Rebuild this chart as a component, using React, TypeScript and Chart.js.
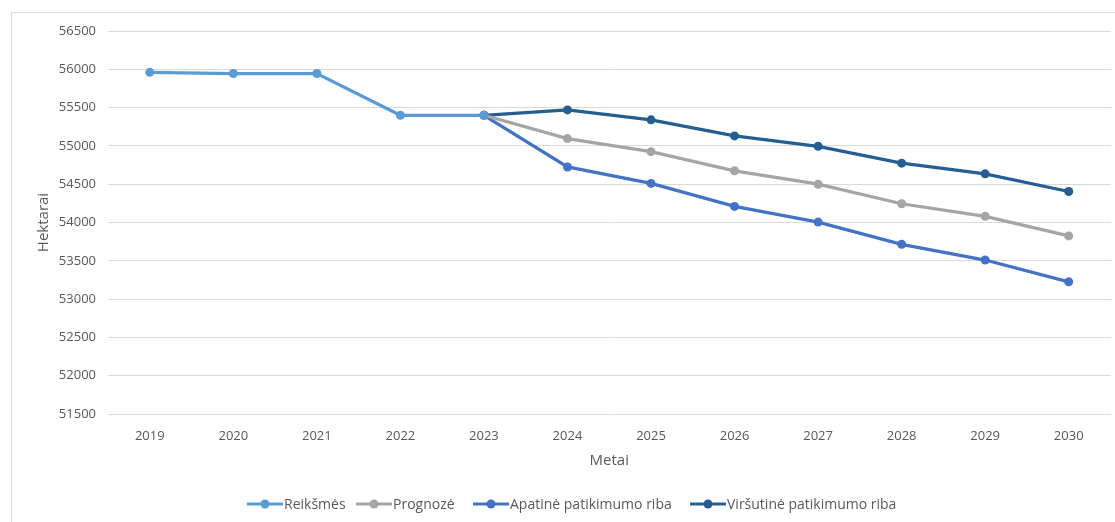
import React, { useEffect, useRef } from "react";
import { Chart, registerables } from "chart.js";

Chart.register(...registerables);

const years = ["2019", "2020", "2021", "2022", "2023", "2024", "2025", "2026", "2027", "2028", "2029", "2030"];
const reiksmes = [55960, 55945, 55945, 55400, 55400, null, null, null, null, null, null, null];
const prognoze = [null, null, null, null, 55400, 55095, 54925, 54675, 54500, 54245, 54080, 53825];
const apatine = [null, null, null, null, 55400, 54725, 54510, 54210, 54005, 53715, 53510, 53225];
const virsutine = [null, null, null, null, 55400, 55470, 55340, 55130, 54995, 54775, 54635, 54405];

const yMin = 51500;
const yMax = 56500;
const yStep = 500;

const seriesNames = ["Reikšmės", "Prognozė", "Apatinė patikimumo riba", "Viršutinė patikimumo riba"];
const seriesColors = ["#5B9BD5", "#A5A5A5", "#4472C4", "#255E91"];
const seriesValues = [reiksmes, prognoze, apatine, virsutine];
const legendLeft = [247, 356, 473, 690];

const FONT = "'Open Sans', 'Liberation Sans', sans-serif";
const TEXT = "#595959";

export default function App() {
  const ref = useRef<HTMLCanvasElement | null>(null);

  useEffect(() => {
    if (!ref.current) return;
    const chart = new Chart(ref.current, {
      type: "line",
      data: {
        labels: years,
        datasets: seriesValues.map((vals, i) => ({
          label: seriesNames[i],
          data: vals,
          borderColor: seriesColors[i],
          backgroundColor: seriesColors[i],
          borderWidth: 3.25,
          pointRadius: 4.5,
          pointHoverRadius: 4.5,
          pointBorderWidth: 0,
          tension: 0,
          fill: false,
        })),
      },
      options: {
        responsive: false,
        animation: false,
        layout: { padding: { left: 0, right: 3, top: 31, bottom: 0 } },
        plugins: {
          legend: { display: false },
          tooltip: { enabled: false },
        },
        scales: {
          x: {
            offset: true,
            grid: { display: false, drawTicks: false },
            border: { display: false },
            ticks: { color: TEXT, font: { family: FONT, size: 13 }, padding: 14, maxRotation: 0 },
            title: {
              display: true,
              text: "Metai",
              color: TEXT,
              font: { family: FONT, size: 15 },
              padding: { top: 0, bottom: 52 },
            },
            afterFit: (scale: any) => {
              scale.height = 108;
            },
          },
          y: {
            min: yMin,
            max: yMax,
            grid: { color: "#d9d9d9", lineWidth: 1, drawTicks: false },
            border: { display: false },
            ticks: {
              stepSize: yStep,
              color: TEXT,
              font: { family: FONT, size: 13 },
              padding: 12,
              callback: (v: any) => String(v),
            },
            title: {
              display: true,
              text: "Hektarai",
              color: TEXT,
              font: { family: FONT, size: 15 },
              padding: { top: 35, bottom: 0 },
            },
            afterFit: (scale: any) => {
              scale.width = 108;
            },
          },
        },
      },
    });
    return () => chart.destroy();
  }, []);

  return (
    <div style={{ position: "fixed", left: 0, top: 0, width: 1115, height: 522, background: "#fff", overflow: "hidden" }}>
      <div
        style={{
          position: "absolute",
          left: 11,
          top: 12,
          width: 1120,
          height: 530,
          border: "1px solid #d9d9d9",
          boxSizing: "border-box",
        }}
      />
      <canvas ref={ref} width={1115} height={522} style={{ position: "absolute", left: 0, top: 0 }} />
      {seriesNames.map((name, i) => (
        <div
          key={name}
          style={{
            position: "absolute",
            left: legendLeft[i],
            top: 494,
            display: "flex",
            alignItems: "center",
            fontFamily: FONT,
            fontSize: 14,
            color: TEXT,
            whiteSpace: "nowrap",
          }}
        >
          <svg width={36} height={10} style={{ marginRight: 1 }}>
            <line x1={0} y1={5} x2={36} y2={5} stroke={seriesColors[i]} strokeWidth={3} />
            <circle cx={18} cy={5} r={4.5} fill={seriesColors[i]} />
          </svg>
          <span>{name}</span>
        </div>
      ))}
    </div>
  );
}
